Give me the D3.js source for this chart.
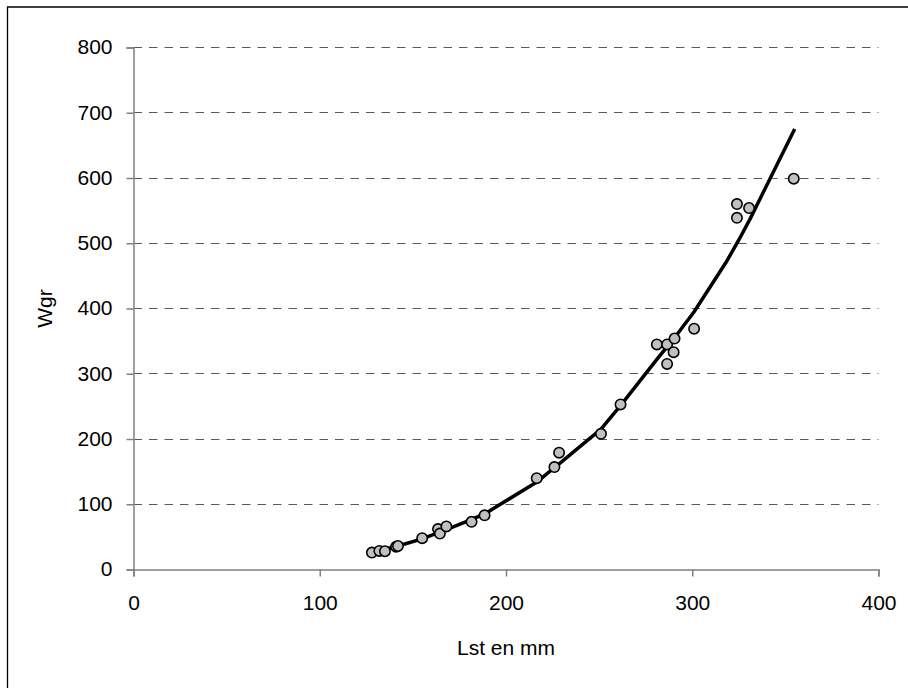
<!DOCTYPE html>
<html>
<head>
    <title>Wgr vs Lst</title>
    <script src="https://cdnjs.cloudflare.com/ajax/libs/d3/7.8.5/d3.min.js"></script>
    <style>
        body {
            margin: 0;
            background: white;
        }
        svg text {
            font-family: "Liberation Sans", Arial, sans-serif;
            fill: #000;
        }
    </style>
</head>
<body>
<div id="chart"></div>
<script>
// Observed points (length mm, weight g)
const lengthMm = [128, 132, 135, 141, 142, 155, 163.5, 164.5, 168, 181.5, 188.5,
    216.5, 226, 228.5, 251, 261.5, 281, 286.5, 290.5, 290, 286.5, 301,
    324, 330.5, 324, 354.5];
const weightG = [26, 28.5, 28, 35, 36, 48, 62, 55, 66, 73, 83,
    140, 157, 179, 208, 253, 345, 345, 354, 333, 315, 369,
    560, 554, 539, 599];

// Fitted curve
const fitX = [128, 132, 135, 142, 155, 164, 168, 181, 189, 217, 226, 229,
    251, 262, 281, 287, 291, 301, 318, 325, 331, 355];
const fitY = [26, 29, 31, 36, 47, 57, 61, 76, 86, 135, 156, 163,
    215, 253, 322, 343, 357, 395, 470, 505, 537, 675];

const xTicks = [0, 100, 200, 300, 400];
const yTicks = [0, 100, 200, 300, 400, 500, 600, 700, 800];

const W = 908, H = 688;
const margin = { top: 47.5, right: 29.5, bottom: 118.5, left: 133.5 };
const width = W - margin.left - margin.right;
const height = H - margin.top - margin.bottom;

const svg = d3.select('#chart')
    .append('svg')
    .attr('width', W)
    .attr('height', H);

// outer frame (only left and top edges are visible)
svg.append('path')
    .attr('d', `M7.5,${H + 5} V7 H${W + 5}`)
    .attr('fill', 'none')
    .attr('stroke', '#000')
    .attr('stroke-width', 1.3);

const g = svg.append('g')
    .attr('transform', `translate(${margin.left},${margin.top})`);

const x = d3.scaleLinear().domain([0, 400]).range([0, width]);
const y = d3.scaleLinear().domain([0, 800]).range([height, 0]);

// gridlines
g.selectAll('.grid')
    .data(yTicks.filter(d => d > 0))
    .enter()
    .append('line')
    .attr('class', 'grid')
    .attr('x1', 0)
    .attr('x2', width)
    .attr('y1', d => Math.round(y(d)))
    .attr('y2', d => Math.round(y(d)))
    .attr('stroke', '#5a5a5a')
    .attr('stroke-width', 1)
    .attr('stroke-dasharray', '8.5,7');

// axes
const xAxis = g.append('g')
    .attr('transform', `translate(0,${height})`)
    .call(d3.axisBottom(x).tickValues(xTicks).tickSize(7).tickPadding(19));
const yAxis = g.append('g')
    .call(d3.axisLeft(y).tickValues(yTicks).tickSize(7).tickPadding(14));

[xAxis, yAxis].forEach(a => {
    a.select('.domain').attr('stroke', '#808080').attr('stroke-width', 1.5);
    a.selectAll('.tick line').attr('stroke', '#808080').attr('stroke-width', 1.5);
    a.selectAll('.tick text')
        .attr('font-size', '21px')
        .attr('font-family', '"Liberation Sans", Arial, sans-serif')
        .attr('fill', '#000');
});
yAxis.selectAll('.tick text').attr('dy', '0.3em');

// fitted curve
const fitData = fitX.map((v, i) => ({ x: v, y: fitY[i] }));
g.append('path')
    .datum(fitData)
    .attr('fill', 'none')
    .attr('stroke', '#000')
    .attr('stroke-width', 3.5)
    .attr('stroke-linejoin', 'round')
    .attr('d', d3.line().x(d => x(d.x)).y(d => y(d.y)));

// observed points
const pts = lengthMm.map((v, i) => ({ x: v, y: weightG[i] }));
g.selectAll('.pt')
    .data(pts)
    .enter()
    .append('circle')
    .attr('class', 'pt')
    .attr('cx', d => x(d.x))
    .attr('cy', d => y(d.y))
    .attr('r', 5.2)
    .attr('fill', '#c0c0c0')
    .attr('stroke', '#000')
    .attr('stroke-width', 1.6);

// axis titles
svg.append('text')
    .attr('x', margin.left + width / 2)
    .attr('y', 655)
    .attr('text-anchor', 'middle')
    .attr('font-size', '21px')
    .text('Lst en mm');

svg.append('text')
    .attr('transform', `translate(52,${margin.top + height / 2}) rotate(-90)`)
    .attr('text-anchor', 'middle')
    .attr('font-size', '21px')
    .text('Wgr');
</script>
</body>
</html>
